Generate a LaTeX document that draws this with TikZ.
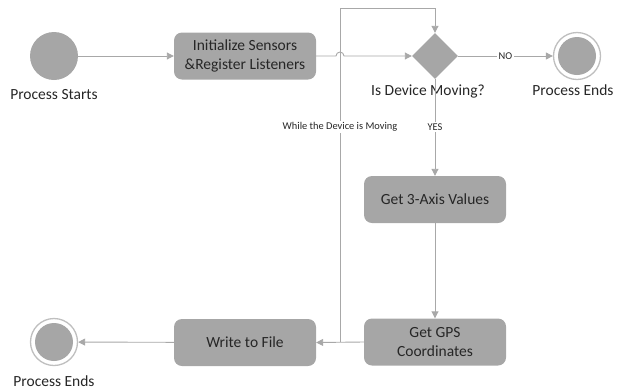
\documentclass[tikz,border=0pt]{standalone}
\usepackage{fontspec}
\setmainfont{Carlito}
\usetikzlibrary{arrows.meta,shapes.geometric}
\definecolor{boxgray}{HTML}{A6A6A6}
\definecolor{linegray}{HTML}{A8A8A8}
\definecolor{ringgray}{HTML}{BFBFBF}
\definecolor{txt}{HTML}{262626}
\begin{document}
\begin{tikzpicture}[x=1pt,y=-1pt,
  box/.style={rectangle,rounded corners=8pt,fill=boxgray,minimum width=142pt,minimum height=47pt,inner sep=0pt,align=center,font=\fontsize{15.5}{19}\selectfont,text=txt},
  flow/.style={draw=linegray,line width=0.9pt,-{Triangle[length=7pt,width=7pt]}},
  lbl/.style={font=\fontsize{15.5}{19}\selectfont,text=txt,anchor=base,inner sep=0pt},
  small/.style={font=\fontsize{10.4}{12}\selectfont,text=txt,fill=white,inner sep=1.5pt},
  dot/.style={circle,fill=boxgray,inner sep=0pt},
  ring/.style={circle,draw=ringgray,line width=1.3pt,fill=white,minimum size=47pt,inner sep=0pt}]
\useasboundingbox (0,0) rectangle (621,389);

% nodes
\node[dot,minimum size=48pt] (start) at (54,56) {};
\node[lbl] (startlbl) at (54,99) {Process Starts};
\node[box] (init) at (245,56) {Initialize Sensors\\\&Register Listeners};
\node[diamond,fill=boxgray,minimum width=46pt,minimum height=46pt,inner sep=0pt] (dec) at (435,56) {};
\node[lbl] (declbl) at (428,95) {Is Device Moving?};
\node[ring] (end1) at (577,56) {};
\node[dot,minimum size=38pt] (end1in) at (end1) {};
\node[lbl] (end1lbl) at (573,95) {Process Ends};
\node[box] (axis) at (435,199.5) {Get 3-Axis Values};
\node[box] (gps) at (435,342) {Get GPS\\Coordinates};
\node[box] (write) at (245,342.5) {Write to File};
\node[ring] (end2) at (54,342) {};
\node[dot,minimum size=38pt] (end2in) at (end2) {};
\node[lbl] (end2lbl) at (54,386) {Process Ends};

% helper coordinates
\coordinate (jn) at (340,342);
\coordinate (loopA) at (340,8);
\coordinate (loopB) at (dec|-loopA);
\coordinate (hopL) at (336,56);

% connectors
\draw[flow] (start) -- (init);
\draw[flow] (init.east) -- (hopL) arc[start angle=180,end angle=0,radius=4pt] -- (dec.west);
\draw[flow] (dec.east) -- node[small]{NO} (end1);
\draw[flow] (dec.south) -- node[small,pos=0.495]{YES} (axis.north);
\draw[flow] (axis) -- (gps);
\draw[flow] (gps.west) -- (write.east);
\draw[flow] (jn) -- node[small,pos=0.644]{While the Device is Moving} (loopA) -- (loopB) -- (dec.north);
\draw[flow] (write) -- (end2);
\end{tikzpicture}
\end{document}
